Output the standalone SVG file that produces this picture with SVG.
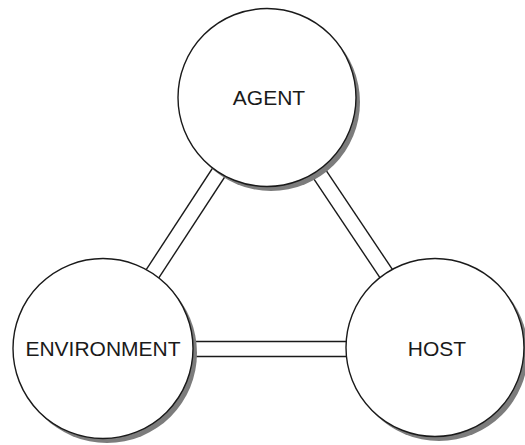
<svg xmlns="http://www.w3.org/2000/svg" width="525" height="445" viewBox="0 0 525 445">
  <style>
    .link { stroke: #1a1a1a; stroke-width: 1.4; fill: none; }
    .shadow { fill: #7c7c7c; }
    .node { fill: #ffffff; stroke: #1a1a1a; stroke-width: 1.4; }
    .label { font-family: "Liberation Sans", Arial, sans-serif; font-size: 21px; fill: #1a1a1a; text-anchor: middle; dominant-baseline: central; }
  </style>
  <rect width="525" height="445" fill="#ffffff"/>

  <!-- double-line connectors, drawn centre to centre and covered by the circles -->
  <g id="connectors">
    <g id="agent-environment">
      <line class="link" x1="274.3" y1="101.1" x2="110.3" y2="352.1"/>
      <line class="link" x1="261.7" y1="92.9" x2="97.7" y2="343.9"/>
    </g>
    <g id="agent-host">
      <line class="link" x1="274.2" y1="92.8" x2="442.2" y2="343.8"/>
      <line class="link" x1="261.8" y1="101.2" x2="429.8" y2="352.2"/>
    </g>
    <g id="environment-host">
      <line class="link" x1="103" y1="341.5" x2="435" y2="341.5"/>
      <line class="link" x1="103" y1="356.5" x2="435" y2="356.5"/>
    </g>
  </g>

  <g id="agent">
    <circle class="shadow" cx="271" cy="102" r="89"/>
    <circle class="node" cx="267" cy="97.5" r="89"/>
    <text class="label" x="269" y="97">AGENT</text>
  </g>

  <g id="environment">
    <circle class="shadow" cx="107" cy="353" r="90"/>
    <circle class="node" cx="103" cy="348.5" r="90"/>
    <text class="label" x="103" y="348">ENVIRONMENT</text>
  </g>

  <g id="host">
    <circle class="shadow" cx="439" cy="352" r="89"/>
    <circle class="node" cx="435" cy="347.5" r="89"/>
    <text class="label" x="437" y="348">HOST</text>
  </g>
</svg>
